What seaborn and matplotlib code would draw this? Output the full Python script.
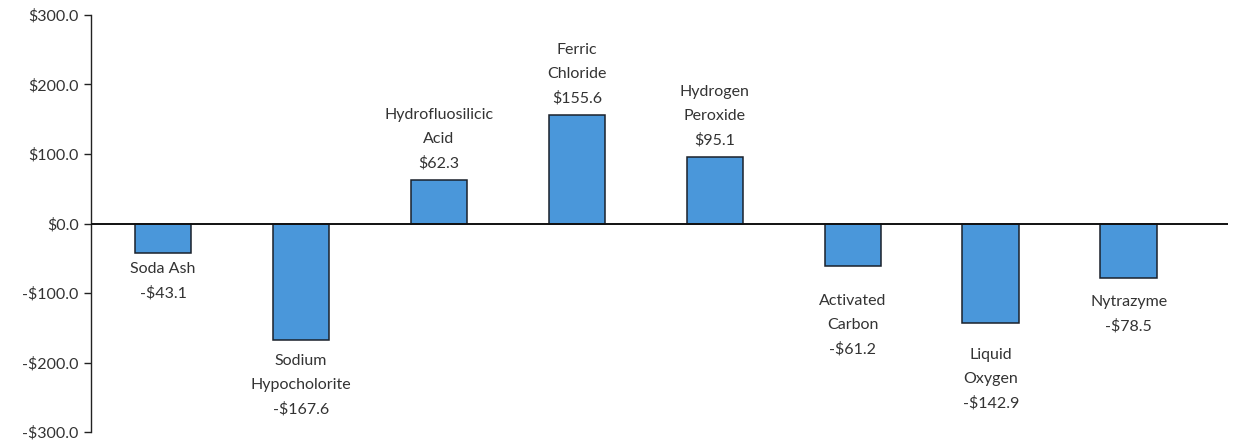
import matplotlib
matplotlib.use("Agg")
import matplotlib.pyplot as plt
from matplotlib.ticker import FuncFormatter, MultipleLocator
import pandas as pd
import seaborn as sns

# Chemical cost changes
categories = [
    "Soda Ash",
    "Sodium\nHypocholorite",
    "Hydrofluosilicic\nAcid",
    "Ferric\nChloride",
    "Hydrogen\nPeroxide",
    "Activated\nCarbon",
    "Liquid\nOxygen",
    "Nytrazyme",
]
values = [-43.1, -167.6, 62.3, 155.6, 95.1, -61.2, -142.9, -78.5]
y_ticks = [-300, -200, -100, 0, 100, 200, 300]

# extra gap (points) between each bar end and its label
label_gap = [6, 10, 7, 7, 7, 20, 18, 12]

sns.set_theme(style="white")
plt.rcParams["font.family"] = ["Lato", "DejaVu Sans"]

df = pd.DataFrame({"chemical": categories, "cost": values})

fig = plt.figure(figsize=(12.33, 4.4), dpi=100)
ax = fig.add_axes([0.074, 0.018, 0.922, 0.948])

sns.barplot(
    data=df, x="chemical", y="cost", ax=ax,
    color="#4A97DA", saturation=1, width=0.41,
    edgecolor="#1a212b", linewidth=1.1,
)

ax.set_ylim(y_ticks[0], y_ticks[-1])
ax.set_xlim(-0.52, 7.72)
ax.yaxis.set_major_locator(MultipleLocator(100))

def money(v, _pos):
    sign = "-" if v < 0 else ""
    return f"{sign}${abs(v):.1f}"

ax.yaxis.set_major_formatter(FuncFormatter(money))
ax.tick_params(axis="y", which="major", left=True, length=5, width=1,
               color="#222222", labelsize=11.5, labelcolor="#333333", pad=4)
ax.tick_params(axis="x", bottom=False, labelbottom=False)
ax.set_xlabel("")
ax.set_ylabel("")

for side in ("top", "right", "bottom"):
    ax.spines[side].set_visible(False)
ax.spines["left"].set_color("#222222")
ax.spines["left"].set_linewidth(1.0)
ax.axhline(0, color="#111111", linewidth=1.4, zorder=3)

for i, (name, val) in enumerate(zip(categories, values)):
    sign = "-" if val < 0 else ""
    text = f"{name}\n{sign}${abs(val):.1f}"
    if val >= 0:
        ax.annotate(text, (i, val), xytext=(0, label_gap[i]),
                    textcoords="offset points", ha="center", va="bottom",
                    fontsize=11.5, color="#333333", linespacing=1.9)
    else:
        ax.annotate(text, (i, val), xytext=(0, -label_gap[i]),
                    textcoords="offset points", ha="center", va="top",
                    fontsize=11.5, color="#333333", linespacing=1.9)

fig.savefig("out.png", dpi=100, facecolor="white")
